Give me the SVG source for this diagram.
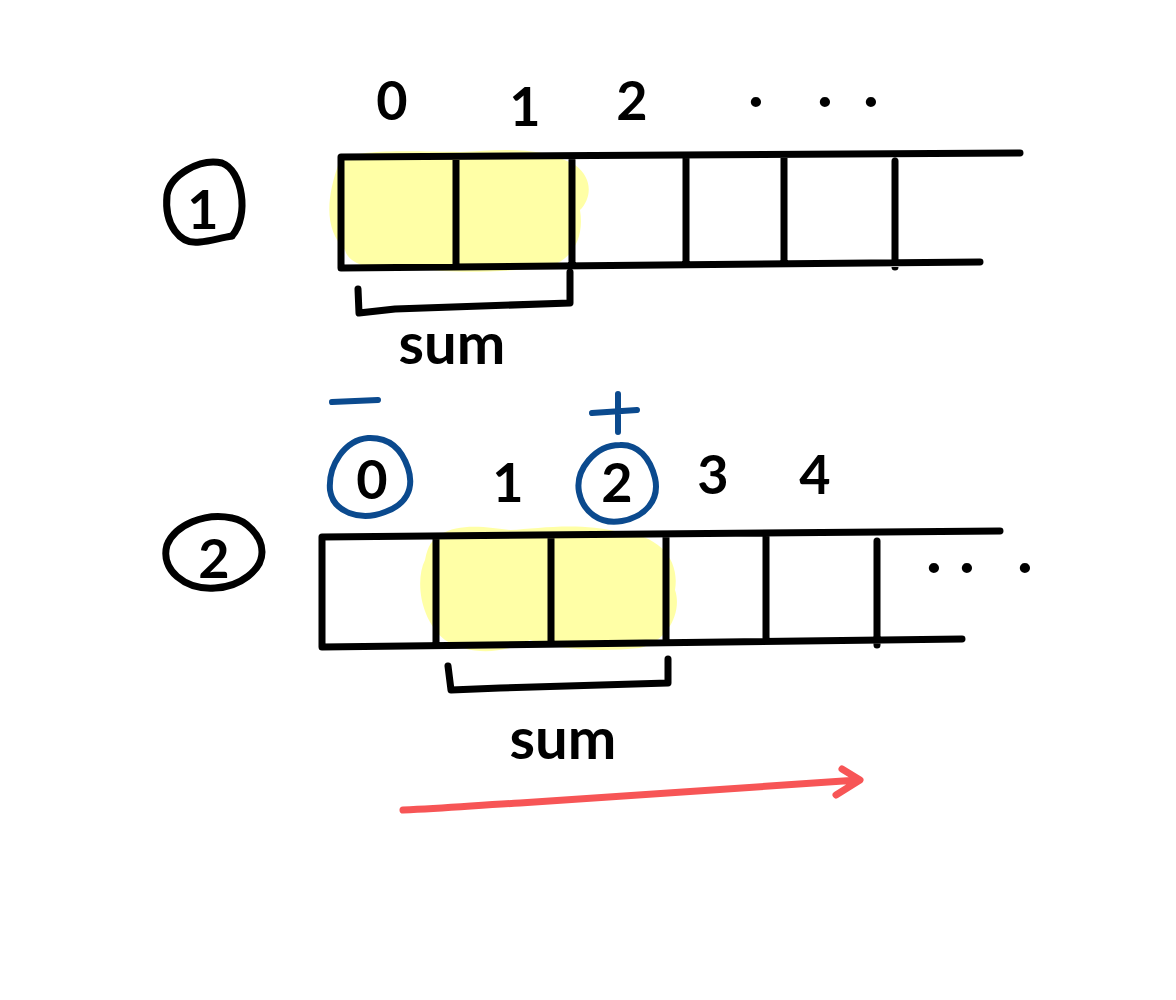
<svg xmlns="http://www.w3.org/2000/svg" width="1176" height="1000" viewBox="0 0 1176 1000">
<style>
.ln{fill:none;stroke:#000;stroke-width:7;stroke-linecap:round;stroke-linejoin:round}
.bl{fill:none;stroke:#0b4a8e;stroke-width:6;stroke-linecap:round;stroke-linejoin:round}
.hl{fill:#ffffa6}
.t{font-family:"Lato","Liberation Sans",sans-serif;font-weight:bold;fill:#000;text-anchor:middle}
.num{font-size:54px}
.dot{font-size:54px}
.sum{font-size:58px}
</style>
<rect width="1176" height="1000" fill="#fff"/>
<g id="step1">
  <g id="label1">
    <path class="ln" d="M232,236 C250,215 242,170 222,163 C200,158 170,175 167,195 C164,225 180,245 200,242 C210,241 220,238 232,236"/>
    <text class="t num" x="203" y="229">1</text>
  </g>
  <g id="idx1">
    <text class="t num" x="392" y="120">0</text>
    <text class="t num" x="525" y="126">1</text>
    <text class="t num" x="632" y="120">2</text>
    <text class="t dot" y="118"><tspan x="756">·</tspan><tspan x="825">·</tspan><tspan x="871">·</tspan></text>
  </g>
  <g id="array1">
    <path class="hl" d="M340,160 C360,148 420,152 460,152 C500,150 540,145 575,165 C595,180 590,200 580,210 C585,240 570,265 540,268 C500,272 450,274 420,268 C390,272 350,270 345,250 C325,230 325,200 340,160 Z"/>
    <path class="ln" d="M341,157 L1020,153 M341,268 L980,262 M341,157 L341,268 M456,158 L456,266 M572,160 L572,265 M686,158 L686,262 M784,157 L784,262 M895,161 L895,267"/>
  </g>
  <g id="bracket1">
    <path class="ln" d="M358,289 L359,313 L395,309 L570,303 L570,272"/>
    <text class="t sum" x="452" y="364">sum</text>
  </g>
</g>
<g id="step2">
  <g id="label2">
    <path class="ln" d="M232,518 C205,512 175,525 167,545 C160,570 185,590 215,588 C240,587 262,570 262,552 C262,535 245,520 232,518"/>
    <text class="t num" x="214" y="578">2</text>
  </g>
  <g id="idx2">
    <path class="bl" d="M332,402 L378,400"/>
    <path class="bl" d="M592,413 L637,410 M618,394 L618,432"/>
    <path class="bl" d="M368,438 C345,440 328,465 330,490 C333,512 360,522 385,512 C405,505 415,490 408,468 C402,450 390,437 368,438 Z"/>
    <path class="bl" d="M620,445 C595,445 575,470 579,492 C583,512 600,525 622,521 C645,517 660,500 655,478 C650,458 638,444 620,445 Z"/>
    <text class="t num" x="372" y="499">0</text>
    <text class="t num" x="508" y="502">1</text>
    <text class="t num" x="617" y="502">2</text>
    <text class="t num" x="713" y="494">3</text>
    <text class="t num" x="815" y="494">4</text>
    <text class="t dot" y="584"><tspan x="934">·</tspan><tspan x="967">·</tspan><tspan x="1025">·</tspan></text>
  </g>
  <g id="array2">
    <path class="hl" d="M440,535 C460,522 490,528 510,530 C540,528 580,522 620,532 C660,535 680,560 675,590 C682,610 670,640 640,648 C600,652 560,650 530,640 C500,655 470,655 445,640 C420,620 415,580 425,560 C428,545 432,540 440,535 Z"/>
    <path class="ln" d="M322,537 L1000,531 M322,647 L962,639 M322,537 L322,647 M436,538 L436,645 M551,538 L551,643 M666,537 L666,642 M766,537 L766,638 M877,541 L877,645"/>
  </g>
  <g id="bracket2">
    <path class="ln" d="M448,666 L451,690 L500,688 L668,683 L668,659"/>
    <text class="t sum" x="563" y="759">sum</text>
  </g>
</g>
<g id="connectors">
  <path d="M403,810 C450,808 480,805 520,803 C620,797 720,790 858,780 M842,769 L860,780 L836,795" fill="none" stroke="#f75556" stroke-width="7" stroke-linecap="round" stroke-linejoin="round"/>
</g>
</svg>
